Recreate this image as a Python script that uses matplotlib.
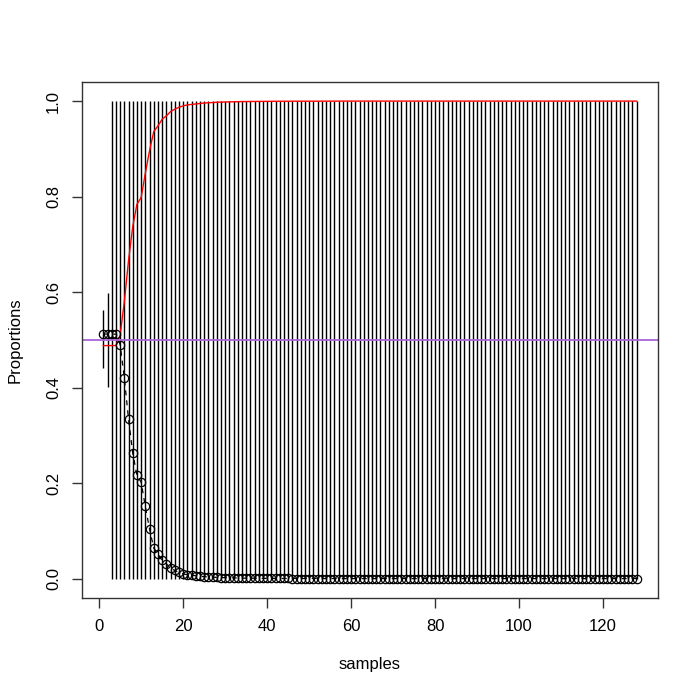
import matplotlib
matplotlib.use("Agg")
import matplotlib.pyplot as plt

plt.rcParams['font.family'] = ['Liberation Sans', 'DejaVu Sans']

samples = list(range(1, 129))

proportion = [
    0.512, 0.512, 0.512, 0.512, 0.490, 0.420, 0.334, 0.263, 0.216, 0.202,
    0.151, 0.104, 0.064, 0.052, 0.038, 0.031, 0.022, 0.017, 0.013, 0.010,
    0.008, 0.007, 0.006, 0.005, 0.004, 0.0035, 0.003, 0.0025, 0.002, 0.002,
    0.0015, 0.0015, 0.0012, 0.001, 0.001, 0.0008, 0.0007, 0.0006, 0.0005, 0.0005,
    0.0004, 0.0004, 0.0003, 0.0003, 0.0003, 0.0002, 0.0002, 0.0002, 0.0002, 0.0001,
    0.0001, 0.0001, 0.0001, 0.0001, 0.0001, 0.0, 0.0, 0.0, 0.0, 0.0,
    0.0, 0.0, 0.0, 0.0, 0.0, 0.0, 0.0, 0.0, 0.0, 0.0,
    0.0, 0.0, 0.0, 0.0, 0.0, 0.0, 0.0, 0.0, 0.0, 0.0,
    0.0, 0.0, 0.0, 0.0, 0.0, 0.0, 0.0, 0.0, 0.0, 0.0,
    0.0, 0.0, 0.0, 0.0, 0.0, 0.0, 0.0, 0.0, 0.0, 0.0,
    0.0, 0.0, 0.0, 0.0, 0.0, 0.0, 0.0, 0.0, 0.0, 0.0,
    0.0, 0.0, 0.0, 0.0, 0.0, 0.0, 0.0, 0.0, 0.0, 0.0,
    0.0, 0.0, 0.0, 0.0, 0.0, 0.0, 0.0, 0.0,
]

complement = [1.0 - p for p in proportion]

# interval bounds: first two samples narrow, the rest span [0, 1]
lower_first = [0.441, 0.402]
upper_first = [0.563, 0.599]
lower = lower_first + [0.0] * (len(samples) - 2)
upper = upper_first + [1.0] * (len(samples) - 2)

reference_level = 0.5

xticks = [0, 20, 40, 60, 80, 100, 120]
yticks = [0.0, 0.2, 0.4, 0.6, 0.8, 1.0]
ytick_labels = ["0.0", "0.2", "0.4", "0.6", "0.8", "1.0"]

fig = plt.figure(figsize=(7, 7), dpi=100)
ax = fig.add_axes([82 / 700, 1 - 597.7 / 700, (658 - 82) / 700, (597.7 - 82) / 700])

ax.vlines(samples, lower, upper, colors='black', linewidth=1.0)
ax.plot(samples, complement, color='red', linewidth=1.0)
ax.plot(samples, proportion, color='black', linewidth=0.9, linestyle=(0, (4, 4)),
        marker='o', markersize=6, markerfacecolor='none', markeredgecolor='black',
        markeredgewidth=0.9)
ax.axhline(reference_level, color='#A865D8', linewidth=1.3)

span = samples[-1] - samples[0]
ax.set_xlim(samples[0] - 0.04 * span, samples[-1] + 0.04 * span)
ax.set_ylim(-0.04, 1.04)

ax.set_xticks(xticks)
ax.set_xticklabels([str(t) for t in xticks], fontsize=12)
ax.set_yticks(yticks)
ax.set_yticklabels(ytick_labels, fontsize=12, rotation=90, va='center')
ax.tick_params(length=7, width=1, pad=8, color='#333333')

for s in ax.spines.values():
    s.set_color('#333333')
    s.set_linewidth(1)

ax.set_xlabel("samples", fontsize=12, labelpad=17)
ax.set_ylabel("Proportions", fontsize=12, labelpad=17)

fig.savefig("out.png", dpi=100)
